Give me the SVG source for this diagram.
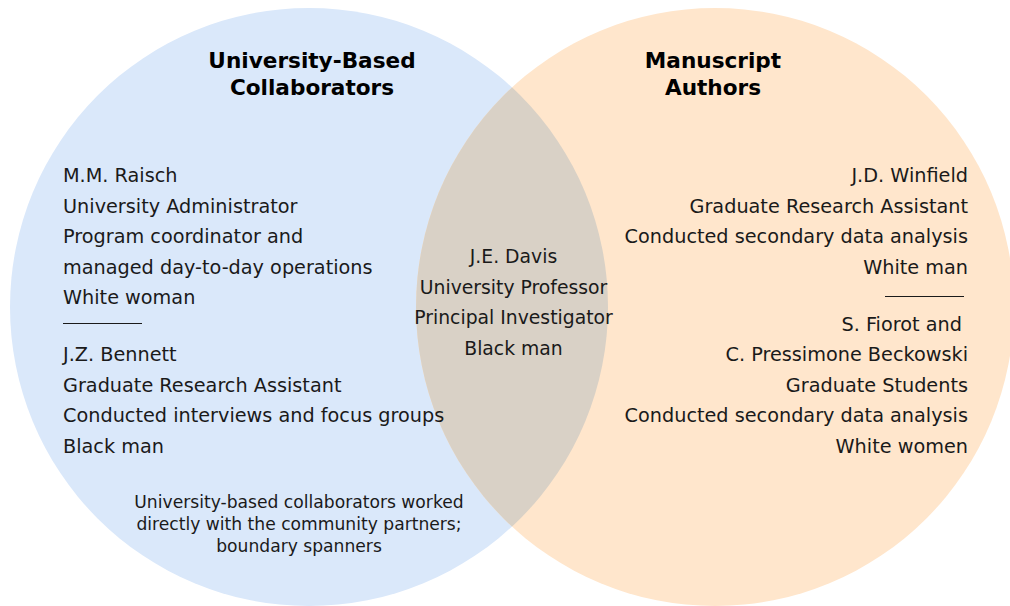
<svg xmlns="http://www.w3.org/2000/svg" width="1010" height="606" viewBox="0 0 1010 606">
  <defs>
    <clipPath id="clip-left">
      <circle cx="309" cy="307" r="299"/>
    </clipPath>
  </defs>
  <style>
    text { font-family: "DejaVu Sans", Verdana, sans-serif; fill: #1a1a1a; }
    .title { font-size: 21.6px; font-weight: bold; fill: #000; text-anchor: middle; }
    .body { font-size: 19.25px; }
    .mid { font-size: 18.8px; text-anchor: middle; }
    .end { text-anchor: end; }
    .note { font-size: 17.15px; text-anchor: middle; }
    .rule { stroke: #1a1a1a; stroke-width: 1; }
  </style>

  <rect width="1010" height="606" fill="#ffffff"/>

  <!-- set circles -->
  <g id="set-university">
    <circle cx="309" cy="307" r="299" fill="#dae8fa"/>
  </g>
  <g id="set-authors">
    <circle cx="715" cy="307" r="299" fill="#ffe6cc"/>
  </g>
  <g id="set-overlap">
    <circle cx="715" cy="307" r="299" fill="#d9d1c6" clip-path="url(#clip-left)"/>
  </g>

  <!-- left set -->
  <g id="university-labels">
    <text class="title" x="312" y="68">University-Based</text>
    <text class="title" x="312" y="95">Collaborators</text>

    <text class="body" x="63" y="182">M.M. Raisch</text>
    <text class="body" x="63" y="212.5">University Administrator</text>
    <text class="body" x="63" y="243">Program coordinator and</text>
    <text class="body" x="63" y="273.5">managed day-to-day operations</text>
    <text class="body" x="63" y="304">White woman</text>
    <line class="rule" x1="63" y1="323.5" x2="142" y2="323.5"/>
    <text class="body" x="63" y="361">J.Z. Bennett</text>
    <text class="body" x="63" y="391.5">Graduate Research Assistant</text>
    <text class="body" x="63" y="422">Conducted interviews and focus groups</text>
    <text class="body" x="63" y="452.5">Black man</text>

    <text class="note" x="299" y="508">University-based collaborators worked</text>
    <text class="note" x="299" y="530">directly with the community partners;</text>
    <text class="note" x="299" y="552">boundary spanners</text>
  </g>

  <!-- shared member -->
  <g id="overlap-labels">
    <text class="mid" x="513.5" y="263">J.E. Davis</text>
    <text class="mid" x="513.5" y="293.5">University Professor</text>
    <text class="mid" x="513.5" y="324">Principal Investigator</text>
    <text class="mid" x="513.5" y="354.5">Black man</text>
  </g>

  <!-- right set -->
  <g id="authors-labels">
    <text class="title" x="713" y="68">Manuscript</text>
    <text class="title" x="713" y="95">Authors</text>

    <text class="body end" x="968" y="182">J.D. Winfield</text>
    <text class="body end" x="968" y="212.5">Graduate Research Assistant</text>
    <text class="body end" x="968" y="243">Conducted secondary data analysis</text>
    <text class="body end" x="968" y="273.5">White man</text>
    <line class="rule" x1="885" y1="296.5" x2="964" y2="296.5"/>
    <text class="body end" x="968" y="331" xml:space="preserve">S. Fiorot and </text>
    <text class="body end" x="968" y="361">C. Pressimone Beckowski</text>
    <text class="body end" x="968" y="391.5">Graduate Students</text>
    <text class="body end" x="968" y="422">Conducted secondary data analysis</text>
    <text class="body end" x="968" y="452.5">White women</text>
  </g>
</svg>
